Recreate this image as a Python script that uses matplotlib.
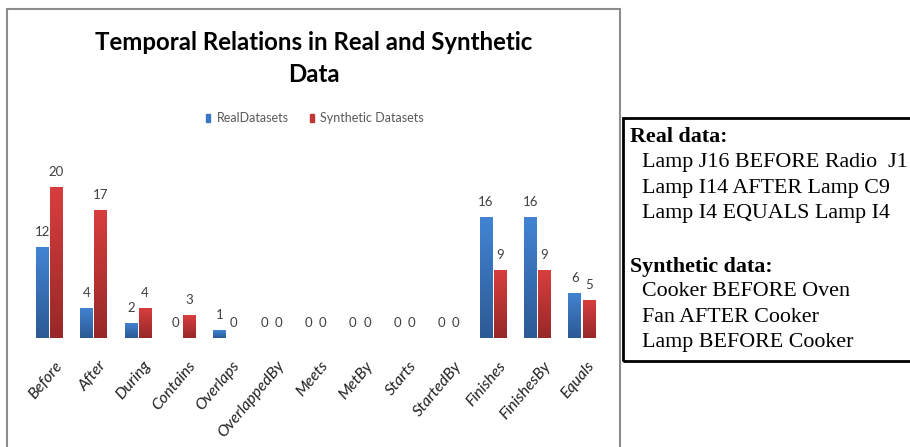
import numpy as np
import matplotlib.pyplot as plt
import matplotlib.transforms as mtransforms
from matplotlib.patches import Rectangle
from matplotlib.colors import LinearSegmentedColormap

# data
relations = ["Before", "After", "During", "Contains", "Overlaps", "OverlappedBy",
             "Meets", "MetBy", "Starts", "StartedBy", "Finishes", "FinishesBy", "Equals"]
real_counts = [12, 4, 2, 0, 1, 0, 0, 0, 0, 0, 16, 16, 6]
synthetic_counts = [20, 17, 4, 3, 0, 0, 0, 0, 0, 0, 9, 9, 5]
series_names = ["RealDatasets", "Synthetic Datasets"]

real_examples = ["Lamp J16 BEFORE Radio  J1", "Lamp I14 AFTER Lamp C9", "Lamp I4 EQUALS Lamp I4"]
synthetic_examples = ["Cooker BEFORE Oven", "Fan AFTER Cooker", "Lamp BEFORE Cooker"]

W, H = 910, 447
fig = plt.figure(figsize=(W / 100, H / 100), dpi=100)


def fx(px):
    return px / W


def fy(py):
    # py measured from the top of the image
    return 1 - py / H


# outer chart frame (bottom edge runs off the picture)
fig.patches.append(Rectangle((fx(7), fy(460)), fx(613), fy(9) - fy(460),
                             transform=fig.transFigure, fill=False,
                             edgecolor="#8c8c8c", lw=1.5))

fig.text(fx(314), fy(43), "Temporal Relations in Real and Synthetic",
         ha="center", va="center", fontsize=17.3, fontweight="bold", family="Lato")
fig.text(fx(314), fy(75), "Data",
         ha="center", va="center", fontsize=17.3, fontweight="bold", family="Lato")

# bar axes: baseline at y=338, 7.55 px per unit
base, ppu = 338, 7.55
ytop = 25
ax = fig.add_axes([fx(27), fy(base), fx(577), ytop * ppu / H])
ax.set_xlim(-0.5, len(relations) - 0.5)
ax.set_ylim(0, ytop)
for s in ax.spines.values():
    s.set_visible(False)
ax.set_yticks([])

x = np.arange(len(relations))
bw, off = 0.28, 0.16
blue_cm = LinearSegmentedColormap.from_list("b", ["#2c5a95", "#4284d2"])
red_cm = LinearSegmentedColormap.from_list("r", ["#982828", "#d83e3e"])
grad = np.linspace(0, 1, 64).reshape(-1, 1)

for vals, sign, cm in [(real_counts, -1, blue_cm), (synthetic_counts, 1, red_cm)]:
    bars = ax.bar(x + sign * off, vals, width=bw, color="none", edgecolor="none")
    for b, v in zip(bars, vals):
        if v > 0:
            im = ax.imshow(grad, cmap=cm, origin="lower", aspect="auto",
                           extent=[b.get_x(), b.get_x() + b.get_width(), 0, v], zorder=2)
            im.set_clip_path(b)
        ax.annotate(str(v), (b.get_x() + b.get_width() / 2, v), xytext=(0, 6.5),
                    textcoords="offset points", ha="center", va="bottom",
                    fontsize=9.5, color="#404040", family="Lato")

ax.set_xticks(x)
ax.set_xticklabels(relations, rotation=50, ha="right", rotation_mode="anchor",
                   fontsize=11.5, style="italic", family="Lato", color="#202020")
ax.tick_params(axis="x", length=0, pad=15)
shift = mtransforms.ScaledTranslation(5 / 100, 0, fig.dpi_scale_trans)
for lbl in ax.get_xticklabels():
    lbl.set_transform(lbl.get_transform() + shift)
ax.set_xlim(-0.5, len(relations) - 0.5)

# legend
fig.patches.append(Rectangle((fx(206), fy(122)), fx(4), fy(114) - fy(122),
                             transform=fig.transFigure, color="#3a76c4"))
fig.text(fx(217), fy(118), series_names[0], ha="left", va="center",
         fontsize=9, color="#595959", family="Lato")
fig.patches.append(Rectangle((fx(310), fy(122)), fx(4), fy(114) - fy(122),
                             transform=fig.transFigure, color="#c43535"))
fig.text(fx(320), fy(118), series_names[1], ha="left", va="center",
         fontsize=9, color="#595959", family="Lato")

# example box on the right
fig.patches.append(Rectangle((fx(623), fy(361)), fx(300), fy(118) - fy(361),
                             transform=fig.transFigure, fill=False,
                             edgecolor="black", lw=2))
serif = "Liberation Serif"
fs = 15.8
row = 25.5
y0 = 137
fig.text(fx(630), fy(y0), "Real data:", ha="left", va="center",
         fontsize=fs, fontweight="bold", family=serif)
for i, t in enumerate(real_examples):
    fig.text(fx(642), fy(y0 + row * (i + 1)), t, ha="left", va="center",
             fontsize=fs, family=serif)
y1 = 267
fig.text(fx(630), fy(y1), "Synthetic data:", ha="left", va="center",
         fontsize=fs, fontweight="bold", family=serif)
for i, t in enumerate(synthetic_examples):
    fig.text(fx(642), fy(y1 + row * (i + 1) - 1), t, ha="left", va="center",
             fontsize=fs, family=serif)

fig.savefig("out.png", dpi=100)
